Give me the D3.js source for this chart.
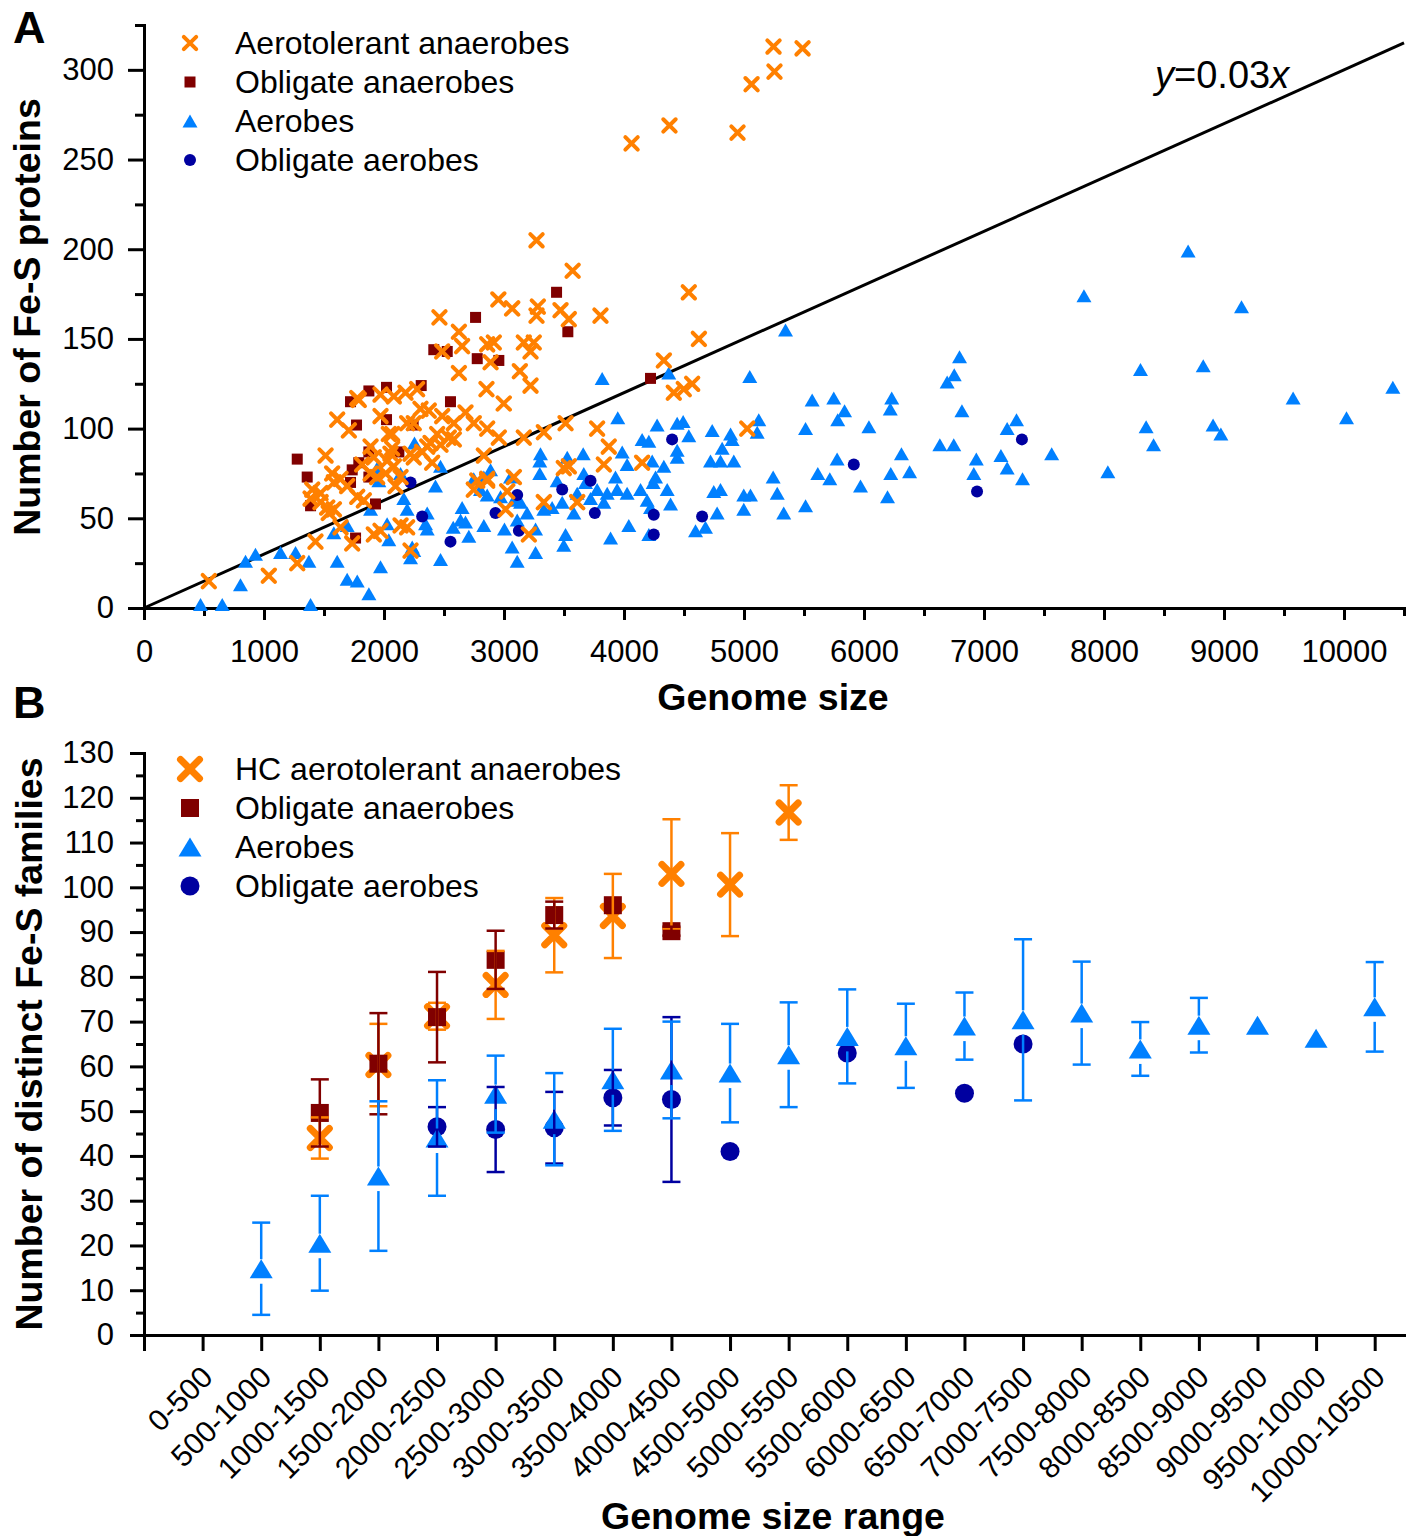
<!DOCTYPE html>
<html>
<head>
<meta charset="utf-8">
<script src="https://cdn.jsdelivr.net/npm/d3@7"></script>
<style>
  body { margin: 0; background: #fff; }
  text { font-family: "Liberation Sans", Arial, sans-serif; }
</style>
</head>
<body>
<script>
// ---------- Panel A data: [genome size, number of Fe-S proteins] ----------
const aerotolerantA = [
  [5246,313],[5488,312],[5254,299],[5063,292],[4379,269],[4063,259],[4946,265],
  [3271,205],[3572,188],[4540,176],[2953,172],[3068,167],[3282,168],[3271,163],[3471,166],[3540,161],[3804,163],[4624,150],
  [2860,147],[2915,148],[3165,148],[3248,148],[3221,143],[2888,137],[3132,132],[3221,124],[2854,122],[2998,114],
  [4332,138],[4415,120],[4498,122],[4568,125],
  [2860,100],[2957,95],[3165,95],[3332,98],[3513,103],[3776,100],[5027,100],[3873,90],
  [3498,78],[3540,79],[3832,80],[4151,81],[2832,85],[2860,72],[3082,73],[3027,65],[3332,59],[3610,59],[3013,55],[3207,41],
  [2462,162],[2624,154],[2651,146],[2485,143],[2624,131],
  [1610,105],[1707,99],[1790,116],[1971,119],[2082,118],[2179,120],[2276,122],[1971,107],[2040,97],[2193,103],[2304,111],
  [2373,110],[2485,107],[2582,103],[2679,109],[2748,103],[2443,97],[2540,95],[2360,90],[2248,84],[2318,87],[2068,89],
  [1915,84],[2026,82],[1818,80],[1888,75],[2013,75],[2138,73],
  [1513,85],[1568,75],[1638,72],[1582,70],[1693,68],[1402,66],[1471,64],[1388,61],[1471,59],[1527,56],[1540,53],[1777,62],
  [1832,60],[1638,45],[1429,37],[1735,36],[1915,41],[2138,46],[2193,45],[2221,32],[2082,79],
  [1277,25],[1040,18],[540,15],[2748,66],[2860,71],
  [1777,117],[2068,97],[2248,103],[1888,90],[2054,86],[2221,86],[2388,92],[2471,91],[1943,73],[1582,55],[2096,68],
  [2401,81],[2582,94],[2777,71],[1971,43]
];
const obligateAnaerobesA = [
  [2415,144],[2527,143],[2777,139],[2957,138],[1874,121],[2021,123],[2310,124],[1721,115],[2554,115],[1771,102],
  [2021,105],[2243,102],[1277,83],[1360,73],[1735,77],[1790,81],[1874,87],[2124,87],[1721,70],[1874,73],[1388,57],
  [1929,58],[1763,39],[2763,162],[3438,176],[3532,154],[4221,128]
];
const aerobesA = [
  [8701,199],[7833,174],[9146,168],[6796,140],[6752,130],[6693,126],[8304,133],[8827,135],[10407,123],[9576,117],
  [6231,117],[6219,111],[6816,110],[6041,101],[7271,105],[7193,100],[8351,101],[8909,102],[8974,97],[10021,106],
  [6632,91],[6748,91],[6312,86],[8413,91],[6936,83],[7141,85],[7564,86],[6223,75],[6380,76],[6915,75],[7193,78],
  [7321,72],[8032,76],[6196,62],[5971,68],
  [5346,155],[3818,128],[5048,129],[4373,131],[5568,116],[5748,117],[5838,110],[5781,105],[5513,100],[3948,106],
  [4276,102],[4493,104],[4540,96],[4735,99],[4888,97],[5123,105],[5110,98],[4151,94],[4207,93],[4443,88],[4818,89],
  [4901,94],[3660,86],[3985,87],[4721,82],[4804,82],[4915,82],[5776,83],[5243,73],[5615,75],[5715,72],[3298,82],
  [3298,75],[3527,84],[3665,75],[3929,73],[4026,80],[4235,82],[4332,79],[4443,84],[4263,73],[4243,70],[4138,66],
  [4360,66],[4748,65],[4804,66],[4998,63],[5054,63],[5277,64],[5513,57],[5331,53],[4998,55],[4776,53],[4679,45],
  [4596,43],[4388,58],[4193,60],[4221,56],[4207,41],[4040,46],[3888,39],[4026,64],[3943,66],[3860,64],[3776,66],
  [3721,61],[3832,59],[3610,64],[3582,53],[3513,41],[3498,35],[3485,59],[3401,56],[3332,55],[3138,59],[3193,53],
  [3110,49],[3263,44],[3068,34],[3110,26],[3263,31],[3004,44],[2832,46],[2971,62],[3304,86],[3443,71],[3679,70],[4443,103],
  [2254,92],[2471,79],[2429,68],[2138,75],[1957,71],[2165,61],[2193,55],[2360,53],[2651,56],[2748,72],[2832,73],
  [2888,77],[2804,66],[2860,63],[2638,49],[2707,40],[2471,27],[2360,44],[2221,28],[2235,34],[2040,38],[1971,23],
  [1874,8],[1777,15],[1693,16],[1610,26],[1693,46],[1582,42],[1374,26],[1263,31],[1138,31],[929,30],[846,26],
  [804,13],[471,2],[652,2],[1388,2],[1943,78],[2346,47],[2577,45],
  [2679,48],[2026,47],[1888,55],[3054,73],[3082,60],[2248,32]
];
const obligateAerobesA = [
  [2221,70],[2318,51],[2554,37],[2929,53],[3110,63],[3124,43],[4401,94],[3721,71],[3485,66],[3757,53],
  [4248,52],[4248,41],[4651,51],[5915,80],[7316,94],[6942,65]
];
const slope = 0.03;

// ---------- Panel B data: [genome size range, mean, error] ----------
const sizeRanges = ["0-500","500-1000","1000-1500","1500-2000","2000-2500","2500-3000","3000-3500","3500-4000",
  "4000-4500","4500-5000","5000-5500","5500-6000","6000-6500","6500-7000","7000-7500","7500-8000","8000-8500",
  "8500-9000","9000-9500","9500-10000","10000-10500"];
const hcAerotolerantB = [
  ["1000-1500",44,4.6],["1500-2000",60.3,9.2],["2000-2500",71.2,3],["2500-3000",78.2,7.6],["3000-3500",89.3,8.3],
  ["3500-4000",93.6,9.4],["4000-4500",103,12.2],["4500-5000",100.6,11.5],["5000-5500",116.7,6.1]
];
const obligateAnaerobesB = [
  ["1000-1500",49.6,7.5],["1500-2000",60.6,11.3],["2000-2500",71,10.1],["2500-3000",83.8,6.5],["3000-3500",93.8,3],
  ["3500-4000",96,0],["4000-4500",90.2,1]
];
const aerobesB = [
  ["500-1000",14.8,10.3],["1000-1500",20.5,10.6],["1500-2000",35.5,16.7],["2000-2500",44,12.9],["2500-3000",53.8,8.6],
  ["3000-3500",48.2,10.3],["3500-4000",57,11.4],["4000-4500",59.2,10.8],["4500-5000",58.5,11],["5000-5500",62.6,11.7],
  ["5500-6000",66.7,10.5],["6000-6500",64.6,9.4],["6500-7000",69,7.5],["7000-7500",70.4,18],["7500-8000",71.9,11.5],
  ["8000-8500",63.9,6],["8500-9000",69.2,6.1],["9000-9500",69.2,0],["9500-10000",66.3,0],["10000-10500",73.3,10]
];
const obligateAerobesB = [
  ["2000-2500",46.5,4.4],["2500-3000",45.9,9.5],["3000-3500",46.3,8],["3500-4000",53,6.2],["4000-4500",52.6,18.4],
  ["4500-5000",41,0],["5500-6000",63,0],["6500-7000",54,0],["7000-7500",65,0]
];

const COLORS = { orange: "#FF8000", brown: "#800000", blue: "#0080FF", navy: "#0000A0" };

const svg = d3.select("body").append("svg").attr("width", 1416).attr("height", 1536);

// marker shapes, all centred on 0,0
const xPath = a => `M${-a},${-a}L${a},${a}M${-a},${a}L${a},${-a}`;
const triPath = (w, h) => `M0,${-h / 2}L${w / 2},${h / 2}L${-w / 2},${h / 2}Z`;

const markerA = {
  x: s => s.append("path").attr("d", xPath(6.2)).attr("fill", "none").attr("stroke", COLORS.orange).attr("stroke-width", 4).attr("stroke-linecap", "round"),
  sq: s => s.append("rect").attr("x", -5.5).attr("y", -5.5).attr("width", 11).attr("height", 11).attr("fill", COLORS.brown),
  tri: s => s.append("path").attr("d", triPath(15, 13)).attr("fill", COLORS.blue),
  dot: s => s.append("circle").attr("r", 6).attr("fill", COLORS.navy)
};
const markerB = {
  x: s => s.append("path").attr("d", xPath(9.5)).attr("fill", "none").attr("stroke", COLORS.orange).attr("stroke-width", 7).attr("stroke-linecap", "round"),
  sq: s => s.append("rect").attr("x", -9).attr("y", -9).attr("width", 18).attr("height", 18).attr("fill", COLORS.brown),
  tri: s => s.append("path").attr("d", triPath(23, 19)).attr("fill", COLORS.blue),
  dot: s => s.append("circle").attr("r", 9.5).attr("fill", COLORS.navy)
};

function styleAxis(g) {
  g.attr("font-family", '"Liberation Sans", Arial, sans-serif').attr("font-size", 31);
  g.select(".domain").attr("stroke-width", 3).attr("stroke-linecap", "square");
  g.selectAll(".tick line").attr("stroke-width", 3);
  g.selectAll(".tick text").attr("fill", "#000");
}

// ================= Panel A =================
const xA = d3.scaleLinear().domain([0, 10500]).range([144, 1404]);
const yA = d3.scaleLinear().domain([0, 325]).range([608, 25]);

svg.append("g").attr("transform", "translate(0,608)")
  .call(d3.axisBottom(xA).tickValues(d3.range(500, 10501, 1000)).tickSize(8).tickFormat(""))
  .call(g => g.select(".domain").remove()).call(styleAxis);
svg.append("g").attr("transform", "translate(0,608)")
  .call(d3.axisBottom(xA).tickValues(d3.range(0, 10001, 1000)).tickSize(12).tickSizeOuter(0).tickPadding(20).tickFormat(d3.format("d")))
  .call(styleAxis);
svg.append("g").attr("transform", "translate(144,0)")
  .call(d3.axisLeft(yA).tickValues(d3.range(25, 326, 50)).tickSize(9).tickFormat(""))
  .call(g => g.select(".domain").remove()).call(styleAxis);
svg.append("g").attr("transform", "translate(144,0)")
  .call(d3.axisLeft(yA).tickValues(d3.range(0, 301, 50)).tickSize(16).tickSizeOuter(0).tickPadding(14))
  .call(styleAxis);

// reference line y = 0.03x
svg.append("line")
  .attr("x1", xA(0)).attr("y1", yA(0))
  .attr("x2", xA(10500)).attr("y2", yA(10500 * slope))
  .attr("stroke", "#000").attr("stroke-width", 3);

const lineLabel = svg.append("text").attr("x", 1155).attr("y", 88).attr("font-size", 38);
lineLabel.append("tspan").attr("font-style", "italic").text("y");
lineLabel.append("tspan").text("=" + slope);
lineLabel.append("tspan").attr("font-style", "italic").text("x");

const plotA = [
  [aerobesA, "tri"], [obligateAerobesA, "dot"], [obligateAnaerobesA, "sq"], [aerotolerantA, "x"]
];
plotA.forEach(([data, type]) => {
  svg.append("g").selectAll("g").data(data).join("g")
    .attr("transform", d => `translate(${xA(d[0])},${yA(d[1])})`)
    .each(function () { markerA[type](d3.select(this)); });
});

const legendA = [["x", "Aerotolerant anaerobes"], ["sq", "Obligate anaerobes"], ["tri", "Aerobes"], ["dot", "Obligate aerobes"]];
legendA.forEach(([type, label], i) => {
  const y = 43 + i * 39;
  markerA[type](svg.append("g").attr("transform", `translate(190,${y})`));
  svg.append("text").attr("x", 235).attr("y", y + 11).attr("font-size", 32).text(label);
});

svg.append("text").attr("x", 773).attr("y", 710).attr("text-anchor", "middle")
  .attr("font-size", 37.5).attr("font-weight", "bold").text("Genome size");
svg.append("text").attr("transform", "translate(40,317) rotate(-90)").attr("text-anchor", "middle")
  .attr("font-size", 37.5).attr("font-weight", "bold").text("Number of Fe-S proteins");
svg.append("text").attr("x", 13).attr("y", 43).attr("font-size", 45).attr("font-weight", "bold").text("A");

// ================= Panel B =================
const upper = r => +r.split("-")[1];
const xB = d3.scaleLinear().domain([0, 10750]).range([144, 1404]);
const yB = d3.scaleLinear().domain([0, 130]).range([1335, 753]);

svg.append("g").attr("transform", "translate(0,1335)")
  .call(d3.axisBottom(xB).tickValues([0].concat(sizeRanges.map(upper))).tickSize(16).tickSizeOuter(0).tickFormat(""))
  .call(styleAxis);
svg.append("g").selectAll("text").data(sizeRanges).join("text")
  .attr("transform", d => `translate(${xB(upper(d)) + 12},1379) rotate(-45)`)
  .attr("text-anchor", "end").attr("font-size", 30).text(d => d);

svg.append("g").attr("transform", "translate(144,0)")
  .call(d3.axisLeft(yB).tickValues(d3.range(5, 130, 10)).tickSize(8).tickFormat(""))
  .call(g => g.select(".domain").remove()).call(styleAxis);
svg.append("g").attr("transform", "translate(144,0)")
  .call(d3.axisLeft(yB).tickValues(d3.range(0, 131, 10)).tickSize(14).tickSizeOuter(0).tickPadding(16))
  .call(styleAxis);

const plotB = [
  [hcAerotolerantB, "x", COLORS.orange, null],
  [obligateAnaerobesB, "sq", COLORS.brown, null],
  [obligateAerobesB, "dot", COLORS.navy, null],
  [aerobesB, "tri", COLORS.blue, [9.5, 15]]
];
plotB.forEach(([data, type]) => {
  svg.append("g").selectAll("g").data(data).join("g")
    .attr("transform", d => `translate(${xB(upper(d[0]))},${yB(d[1])})`)
    .each(function () { markerB[type](d3.select(this)); });
});

// error bars drawn over the markers
plotB.forEach(([data, type, color, gap]) => {
  const g = svg.append("g").attr("stroke", color).attr("stroke-width", 2.5);
  data.filter(d => d[2] > 0).forEach(d => {
    const x = xB(upper(d[0])), y = yB(d[1]), yt = yB(d[1] + d[2]), yb = yB(d[1] - d[2]);
    const segs = gap ? [[yt, y - gap[0]], [y + gap[1], yb]] : [[yt, yb]];
    segs.forEach(s => g.append("line").attr("x1", x).attr("x2", x).attr("y1", s[0]).attr("y2", s[1]));
    [yt, yb].forEach(v => g.append("line").attr("x1", x - 9).attr("x2", x + 9).attr("y1", v).attr("y2", v));
  });
});

const legendB = [["x", "HC aerotolerant anaerobes"], ["sq", "Obligate anaerobes"], ["tri", "Aerobes"], ["dot", "Obligate aerobes"]];
legendB.forEach(([type, label], i) => {
  const y = 769 + i * 39;
  markerB[type](svg.append("g").attr("transform", `translate(190,${y})`));
  svg.append("text").attr("x", 235).attr("y", y + 11).attr("font-size", 32).text(label);
});

svg.append("text").attr("x", 773).attr("y", 1529).attr("text-anchor", "middle")
  .attr("font-size", 37.5).attr("font-weight", "bold").text("Genome size range");
svg.append("text").attr("transform", "translate(42,1044) rotate(-90)").attr("text-anchor", "middle")
  .attr("font-size", 37.5).attr("font-weight", "bold").text("Number of distinct Fe-S families");
svg.append("text").attr("x", 13).attr("y", 718).attr("font-size", 45).attr("font-weight", "bold").text("B");
</script>
</body>
</html>
